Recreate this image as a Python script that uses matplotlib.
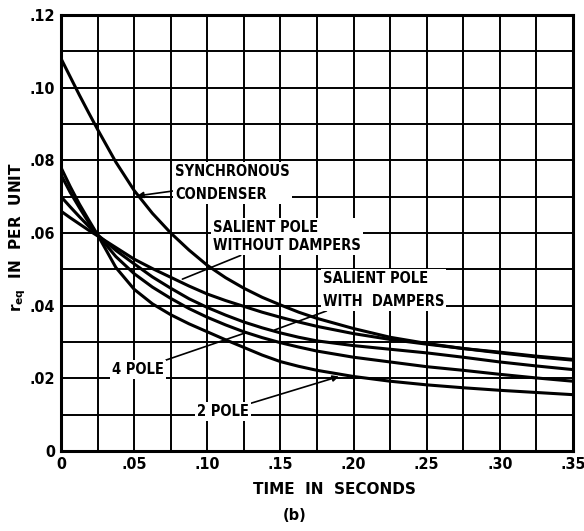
import matplotlib.pyplot as plt
import numpy as np

# time points (seconds)
time = [0, 0.00625, 0.0125, 0.01875, 0.025, 0.0375, 0.05, 0.0625, 0.075, 0.0875, 0.1,
        0.1125, 0.125, 0.1375, 0.15, 0.1625, 0.175, 0.2, 0.225, 0.25, 0.275, 0.3, 0.325, 0.35]

# r_eq in per unit
sync_condenser = [0.108, 0.103, 0.098, 0.0932, 0.0885, 0.0795, 0.0717, 0.0654, 0.0600, 0.0553, 0.0511,
                  0.0477, 0.0448, 0.0423, 0.0402, 0.0382, 0.0365, 0.0337, 0.0313, 0.0296, 0.0282,
                  0.0270, 0.0259, 0.0250]
salient_no_damp = [0.066, 0.0642, 0.0625, 0.0608, 0.0592, 0.0560, 0.0528, 0.0502, 0.0478, 0.0454, 0.0432,
                   0.0414, 0.0398, 0.0382, 0.0368, 0.0355, 0.0343, 0.0323, 0.0307, 0.0294, 0.0282,
                   0.0272, 0.0261, 0.0252]
salient_damp = [0.070, 0.0672, 0.0645, 0.0619, 0.0595, 0.0552, 0.0515, 0.0479, 0.0448, 0.0419, 0.0395,
                0.0374, 0.0355, 0.0339, 0.0325, 0.0313, 0.0303, 0.0290, 0.0280, 0.0270, 0.0258,
                0.0245, 0.0234, 0.0224]
four_pole = [0.076, 0.0712, 0.0670, 0.0630, 0.0595, 0.0535, 0.0488, 0.0451, 0.0420, 0.0392, 0.0368,
             0.0347, 0.0328, 0.0312, 0.0298, 0.0286, 0.0275, 0.0258, 0.0245, 0.0232, 0.0222,
             0.0211, 0.0201, 0.0192]
two_pole = [0.078, 0.0728, 0.0680, 0.0637, 0.0595, 0.0505, 0.0445, 0.0405, 0.0375, 0.0350, 0.0328,
            0.0306, 0.0285, 0.0264, 0.0246, 0.0233, 0.0222, 0.0205, 0.0192, 0.0182, 0.0174,
            0.0167, 0.0161, 0.0155]

x_ticks = [0, 0.05, 0.10, 0.15, 0.20, 0.25, 0.30, 0.35]
x_ticklabels = ['0', '.05', '.10', '.15', '.20', '.25', '.30', '.35']
y_ticks = [0, 0.02, 0.04, 0.06, 0.08, 0.10, 0.12]
y_ticklabels = ['0', '.02', '.04', '.06', '.08', '.10', '.12']

fig = plt.figure(figsize=(5.84, 5.31), dpi=100)
ax = fig.add_axes([0.1045, 0.1507, 0.8765, 0.8211])

for curve in [sync_condenser, salient_no_damp, salient_damp, four_pole, two_pole]:
    ax.plot(time, curve, color='black', lw=2.2, solid_capstyle='round',
            solid_joinstyle='round', zorder=3)

ax.set_xlim(0, 0.35)
ax.set_ylim(0, 0.12)
ax.set_xticks(x_ticks)
ax.set_xticks(np.arange(0, 0.351, 0.025), minor=True)
ax.set_yticks(y_ticks)
ax.set_yticks(np.arange(0, 0.121, 0.01), minor=True)
ax.set_xticklabels(x_ticklabels, fontsize=11.5, fontweight='bold', fontstretch='condensed')
ax.set_yticklabels(y_ticklabels, fontsize=11.5, fontweight='bold', fontstretch='condensed')
ax.tick_params(which='both', length=0, pad=4)
ax.grid(True, which='both', color='black', lw=1.4, zorder=1)
for s in ax.spines.values():
    s.set_linewidth(2.2)

ax.set_xlabel('TIME  IN  SECONDS', fontsize=11, fontweight='bold')
ax.xaxis.set_label_coords(0.535, -0.072)
ax.set_ylabel(r'$\mathbf{r_{eq}}$  IN  PER  UNIT', fontsize=11, fontweight='bold')
ax.yaxis.set_label_coords(-0.064, 0.49)
fig.text(0.505, 0.02, '(b)', fontsize=10.5, fontweight='bold', ha='center')

box = dict(fc='white', ec='none', pad=1.5)
lbl = dict(fontsize=10.5, fontweight='bold', fontstretch='condensed', va='center', ha='left',
           bbox=box, zorder=5)
ln = dict(color='black', lw=1.2)

ax.annotate('SYNCHRONOUS\nCONDENSER', xy=(0.052, 0.0702), xytext=(0.078, 0.0738),
            linespacing=1.65,
            arrowprops=dict(arrowstyle='-|>', mutation_scale=9, shrinkA=0, shrinkB=0, **ln), **lbl)
ax.annotate('SALIENT POLE\nWITHOUT DAMPERS', xy=(0.083, 0.0473), xytext=(0.104, 0.0590),
            linespacing=1.3,
            arrowprops=dict(arrowstyle='-', shrinkA=0, shrinkB=0, **ln), **lbl)
ax.annotate('SALIENT POLE\nWITH  DAMPERS', xy=(0.146, 0.0333), xytext=(0.179, 0.0443),
            linespacing=1.65,
            arrowprops=dict(arrowstyle='-', shrinkA=0, shrinkB=0, **ln), **lbl)
ax.annotate('4 POLE', xy=(0.126, 0.0325), xytext=(0.035, 0.0224),
            arrowprops=dict(arrowstyle='-', shrinkA=0, shrinkB=0, **ln), **lbl)
ax.annotate('2 POLE', xy=(0.190, 0.0205), xytext=(0.093, 0.0108),
            arrowprops=dict(arrowstyle='-|>', mutation_scale=9, shrinkA=0, shrinkB=0, **ln), **lbl)

fig.savefig('out.png', dpi=100)
